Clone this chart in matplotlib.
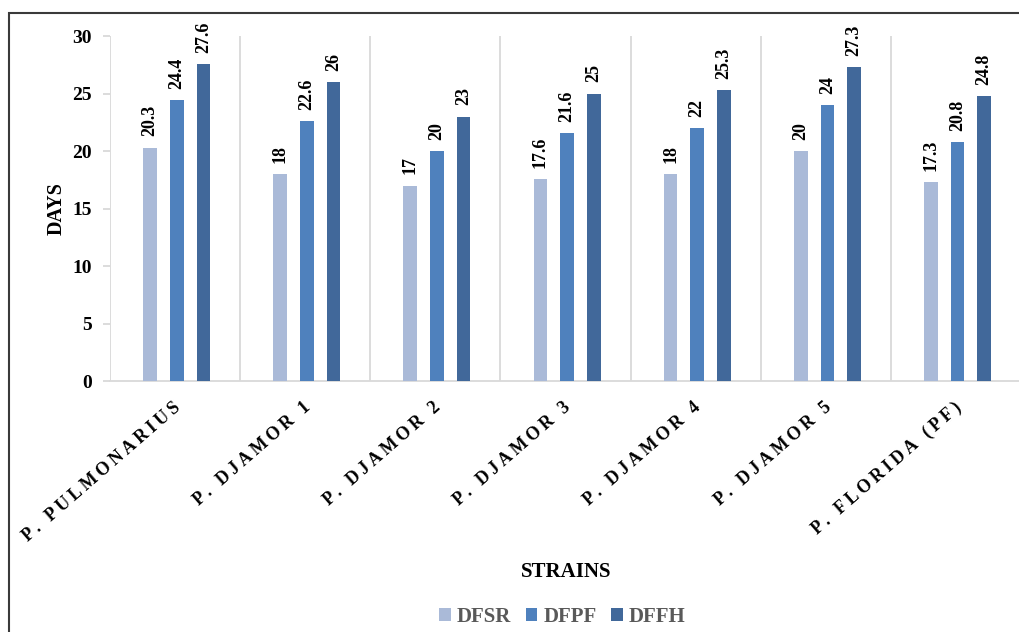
import numpy as np
import matplotlib
matplotlib.use("Agg")
import matplotlib.pyplot as plt
from matplotlib.patches import Rectangle

# données
strains = ["P. PULMONARIUS", "P. DJAMOR 1", "P. DJAMOR 2", "P. DJAMOR 3",
           "P. DJAMOR 4", "P. DJAMOR 5", "P. FLORIDA (PF)"]
dfsr = [20.3, 18, 17, 17.6, 18, 20, 17.3]
dfpf = [24.4, 22.6, 20, 21.6, 22, 24, 20.8]
dffh = [27.6, 26, 23, 25, 25.3, 27.3, 24.8]
series_names = ["DFSR", "DFPF", "DFFH"]
colors = ["#AABAD8", "#4F81BD", "#41689A"]
yticks = [0, 5, 10, 15, 20, 25, 30]

plt.rcParams["font.family"] = ["Liberation Serif", "DejaVu Serif"]
plt.rcParams["font.weight"] = "bold"

fig = plt.figure(figsize=(10.19, 6.32), dpi=100)
ax = fig.add_axes([0.108, 0.397, 0.894, 0.546])

# cadre extérieur (haut + gauche visibles)
fig.patches.append(Rectangle((0.009, -0.1), 1.2, 0.1 + 0.979, transform=fig.transFigure,
                             fill=False, edgecolor="#3a3a3a", linewidth=1.5))

x = np.arange(len(strains))
width = 0.105
for k, (vals, name, col) in enumerate(zip([dfsr, dfpf, dffh], series_names, colors)):
    pos = x + (k - 1) * 0.205 + 0.012
    bars = ax.bar(pos, vals, width=width, color=col, label=name, zorder=3)
    for b, v in zip(bars, vals):
        ax.annotate(f"{v:g}", (b.get_x() + b.get_width() / 2, v),
                    xytext=(0, 8), textcoords="offset points",
                    rotation=90, ha="center", va="bottom",
                    fontsize=13, fontweight="bold")

ax.set_xlim(-0.5, len(strains) - 0.5)
ax.set_ylim(0, 30)
ax.set_yticks(yticks)
ax.set_yticklabels([str(t) for t in yticks], fontsize=14, fontweight="bold")

# séparateurs de catégories
for b in np.arange(-0.5, len(strains) + 0.5, 1.0):
    ax.axvline(b, color="#D9D9D9", linewidth=1.3, zorder=1)

for s in ["top", "right", "left"]:
    ax.spines[s].set_visible(False)
ax.spines["bottom"].set_color("#D9D9D9")
ax.spines["bottom"].set_linewidth(1.3)
ax.tick_params(axis="y", length=5, color="#D9D9D9", width=1.3, pad=8)
ax.tick_params(axis="x", length=0, pad=13)

spaced = ["\u2009".join(list(s)) for s in strains]
ax.set_xticks(x - 0.02)
ax.set_xticklabels(spaced, rotation=41, ha="right", rotation_mode="anchor",
                   fontsize=13, fontweight="bold")

ax.set_ylabel("DAYS", fontsize=14.5, fontweight="bold", labelpad=4)
fig.text(0.556, 0.095, "STRAINS", ha="center", va="center", fontsize=15, fontweight="bold")

leg = fig.legend(loc="center", bbox_to_anchor=(0.552, 0.024), ncol=3, frameon=False,
                 handlelength=0.55, handleheight=0.55, handletextpad=0.3, columnspacing=0.7,
                 prop={"size": 15, "weight": "bold"})
for t in leg.get_texts():
    t.set_color("#595959")

fig.savefig("out.png", dpi=100)
